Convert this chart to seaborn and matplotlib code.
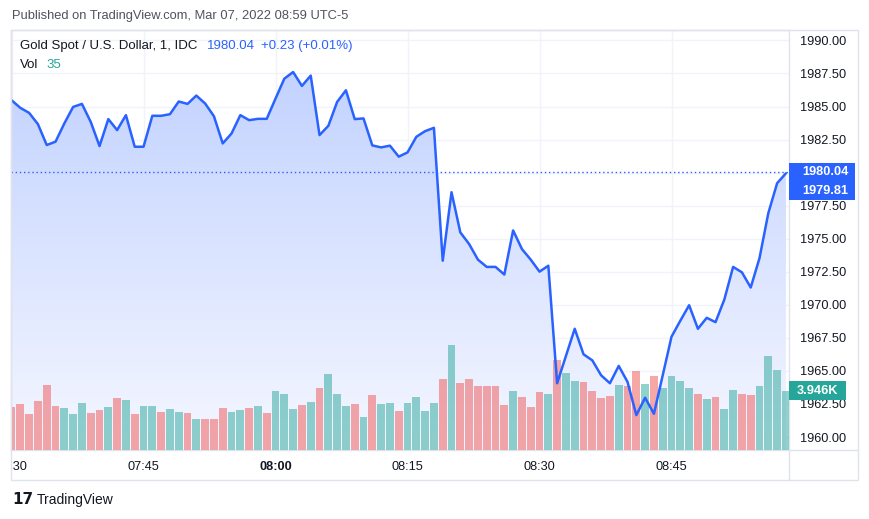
import numpy as np
import pandas as pd
import matplotlib
matplotlib.use("Agg")
import matplotlib.pyplot as plt
import matplotlib.colors as mcolors
from matplotlib.patches import Rectangle, Polygon
from matplotlib.lines import Line2D
from matplotlib.transforms import Bbox, TransformedBbox
import seaborn as sns

# ---------------- data ----------------
close = [1985.48, 1984.90, 1984.52, 1983.67, 1982.09, 1982.34, 1983.72, 1984.97, 1985.20, 1983.84,
         1982.01, 1984.05, 1983.22, 1984.35, 1981.96, 1981.96, 1984.30, 1984.30, 1984.42, 1985.38,
         1985.20, 1985.83, 1985.23, 1984.27, 1982.21, 1982.96, 1984.35, 1983.97, 1984.07, 1984.07,
         1985.60, 1987.11, 1987.61, 1986.56, 1987.34, 1982.84, 1983.54, 1985.35, 1986.23, 1984.05,
         1984.10, 1982.06, 1981.91, 1982.04, 1981.21, 1981.53, 1982.71, 1983.14, 1983.39, 1973.34,
         1978.52, 1975.48, 1974.60, 1973.42, 1972.87, 1972.87, 1972.29, 1975.63, 1974.22, 1973.42,
         1972.51, 1972.96, 1964.07, 1966.13, 1968.19, 1966.26, 1965.80, 1964.67, 1964.07, 1965.38,
         1964.17, 1961.66, 1962.97, 1961.76, 1964.67, 1967.59, 1968.80, 1969.97, 1968.19, 1969.02,
         1968.69, 1970.40, 1972.87, 1972.46, 1971.31, 1973.54, 1976.94, 1979.20, 1979.95]

volume = [2900, 3080, 2410, 3280, 4350, 2940, 2810, 2410, 3140, 2475,
          2680, 2880, 3480, 3345, 2410, 2940, 2940, 2540, 2740, 2540,
          2475, 2070, 2070, 2070, 2810, 2540, 2680, 2810, 2940, 2475,
          3950, 3750, 2740, 3010, 3210, 4150, 5085, 3750, 2940, 3080,
          2210, 3680, 3080, 3140, 2610, 3140, 3545, 2610, 3140, 4750,
          7025, 4480, 4750, 4280, 4280, 4280, 3010, 3950, 3545, 2880,
          3880, 3750, 6020, 5150, 4615, 4550, 3950, 3480, 3610, 4350,
          4280, 5285, 4415, 4950, 4150, 4950, 4615, 4150, 3750, 3410,
          3545, 2740, 4015, 3750, 3680, 4280, 6290, 5350, 3946]

direction = list("rrrrrrgggr" "rgrgrggrgg" "rgrrrggrgr" "gggrgrgggr" "grggrggggr"
                 "grrrrrrgrr" "rgrggrrrrg" "rrgrggggrg" "rggrrgggg")

tick_pos = [0, 15, 30, 45, 60, 75]
tick_labels = ["07:30", "07:45", "08:00", "08:15", "08:30", "08:45"]
price_ticks = [1960.0, 1962.5, 1965.0, 1967.5, 1970.0, 1972.5, 1975.0, 1977.5,
               1980.0, 1982.5, 1985.0, 1987.5, 1990.0]
last_price = 1980.04
second_price = 1979.81
last_volume = 3946
title_text = "Gold Spot / U.S. Dollar, 1, IDC"
change_text = "+0.23 (+0.01%)"
vol_legend = "35"

n = len(close)
df = pd.DataFrame({"minute": np.arange(n), "close": close, "volume": volume,
                   "dir": ["up" if d == "g" else "down" for d in direction]})

# ---------------- style ----------------
sns.set_style("white")
plt.rcParams["font.family"] = ["Liberation Sans", "DejaVu Sans"]

W, H = 870, 519
fig = plt.figure(figsize=(W / 100, H / 100), dpi=100)
fig.patch.set_facecolor("white")


def fx(x):
    return x / W


def fy(y):
    return 1 - y / H


L, R, T, B = 11, 789, 30, 450
ax = fig.add_axes([fx(L), fy(B), fx(R) - fx(L), fy(T) - fy(B)])
axv = ax.twinx()
axl = ax.twinx()

XMIN, XMAX = -0.06, 88.35
YLO, YHI = 1959.02, 1990.79
VHI = 28090

TEXT = "#131722"
BLUE = "#2962ff"
TEAL = "#26a69a"
REDC = "#ef5350"
GRID = "#f0f3fa"
FRAME = "#e0e3eb"

# gradient area under the line
grad = np.linspace(0, 1, 256).reshape(-1, 1)
cmap = mcolors.LinearSegmentedColormap.from_list("area", ["#f5f7ff", "#c3d3ff"])
im = ax.imshow(grad, extent=[0, n - 1, YLO, max(close)], origin="lower",
               aspect="auto", cmap=cmap, zorder=1, interpolation="bicubic")
verts = list(zip(df["minute"], df["close"])) + [(n - 1, YLO), (0, YLO)]
poly = Polygon(verts, closed=True, transform=ax.transData, facecolor="none", edgecolor="none")
im.set_clip_path(poly)

# grid
ax.set_yticks(price_ticks)
ax.set_xticks(tick_pos)
ax.grid(True, color=GRID, linewidth=1, zorder=0)
ax.set_axisbelow(True)

# volume bars
sns.barplot(data=df, x="minute", y="volume", hue="dir",
            palette={"up": TEAL, "down": REDC}, dodge=False, native_scale=True,
            width=0.87, alpha=0.5, saturation=1, legend=False, errorbar=None,
            linewidth=0, ax=axv)

# price line
sns.lineplot(data=df, x="minute", y="close", color=BLUE, linewidth=1.8, ax=axl)
axl.axhline(last_price, color=BLUE, linewidth=1, linestyle=(0, (1, 2)))

for a in (ax, axv, axl):
    a.set_xlim(XMIN, XMAX)
    a.set_xlabel("")
    a.set_ylabel("")
ax.set_ylim(YLO, YHI)
axl.set_ylim(YLO, YHI)
axv.set_ylim(0, VHI)

for a in (axv, axl):
    a.set_yticks([])
    a.tick_params(axis="x", which="both", bottom=False, labelbottom=False)
    for s in a.spines.values():
        s.set_visible(False)


def ypix_price(p):
    return T + (YHI - p) / (YHI - YLO) * (B - T)


def ypix_vol(v):
    return B - v / VHI * (B - T)


yc = ypix_price(last_price)

# price axis on the right (label hidden behind the price box is left blank)
ax.yaxis.tick_right()
ax.set_yticklabels(["" if abs(ypix_price(v) - yc) < 8 else f"{v:.2f}" for v in price_ticks])
ax.tick_params(axis="y", length=0, pad=8, labelsize=9.2, labelcolor=TEXT)
ax.set_xticklabels(tick_labels)
ax.tick_params(axis="x", length=0, pad=8, labelsize=9.2, labelcolor=TEXT)
for lab in ax.get_xticklabels():
    if lab.get_text() == "08:00":
        lab.set_fontweight("bold")
first = ax.get_xticklabels()[0]
first.set_clip_on(True)
first.set_clip_box(TransformedBbox(Bbox([[fx(L), 0], [1, 1]]), fig.transFigure))

for s in ax.spines.values():
    s.set_color(FRAME)
    s.set_linewidth(1)

# outer frame
fig.add_artist(Rectangle((fx(L), fy(480)), fx(858) - fx(L), fy(T) - fy(480),
                         transform=fig.transFigure, fill=False, edgecolor=FRAME, linewidth=1))
fig.add_artist(Line2D([fx(R), fx(858)], [fy(B), fy(B)], transform=fig.transFigure,
                      color=FRAME, linewidth=1))
fig.add_artist(Line2D([fx(R), fx(R)], [fy(B), fy(480)], transform=fig.transFigure,
                      color=FRAME, linewidth=1))

# price label boxes
fig.add_artist(Rectangle((fx(R), fy(yc + 28)), fx(855) - fx(R), fy(yc - 9) - fy(yc + 28),
                         transform=fig.transFigure, facecolor=BLUE, edgecolor="none"))
fig.text(fx(802), fy(yc), f"{last_price:.2f}", color="white", fontsize=9.2, fontweight="bold",
         va="center", ha="left")
fig.text(fx(802), fy(yc + 19), f"{second_price:.2f}", color="white", fontsize=9.2,
         fontweight="bold", va="center", ha="left")

# volume label
yv = ypix_vol(last_volume)
fig.add_artist(Rectangle((fx(R), fy(yv + 9.5)), fx(846) - fx(R), 19 / H,
                         transform=fig.transFigure, facecolor=TEAL, edgecolor="none"))
fig.text(fx(797), fy(yv), f"{last_volume / 1000:.3f}K", color="white", fontsize=9.2,
         fontweight="bold", va="center", ha="left")

# header & legend texts
fig.text(fx(12), fy(16), "Published on TradingView.com, Mar 07, 2022 08:59 UTC-5",
         color="#50535e", fontsize=9.3, va="center", ha="left")
fig.text(fx(20), fy(46), title_text, color=TEXT, fontsize=9.5, va="center", ha="left")
fig.text(fx(207), fy(46), f"{last_price:.2f}", color=BLUE, fontsize=9.5, va="center", ha="left")
fig.text(fx(261), fy(46), change_text, color=BLUE, fontsize=9.5, va="center", ha="left")
fig.text(fx(20), fy(65), "Vol", color=TEXT, fontsize=9.5, va="center", ha="left")
fig.text(fx(46), fy(65), vol_legend, color=TEAL, fontsize=9.5, va="center", ha="left")

# footer
fig.text(fx(12), fy(500), "17", color=TEXT, fontsize=11, fontweight="heavy",
         family="DejaVu Sans", va="center", ha="left")
fig.text(fx(37), fy(500), "TradingView", color=TEXT, fontsize=10, va="center", ha="left")

fig.savefig("out.png", dpi=100, facecolor="white")
